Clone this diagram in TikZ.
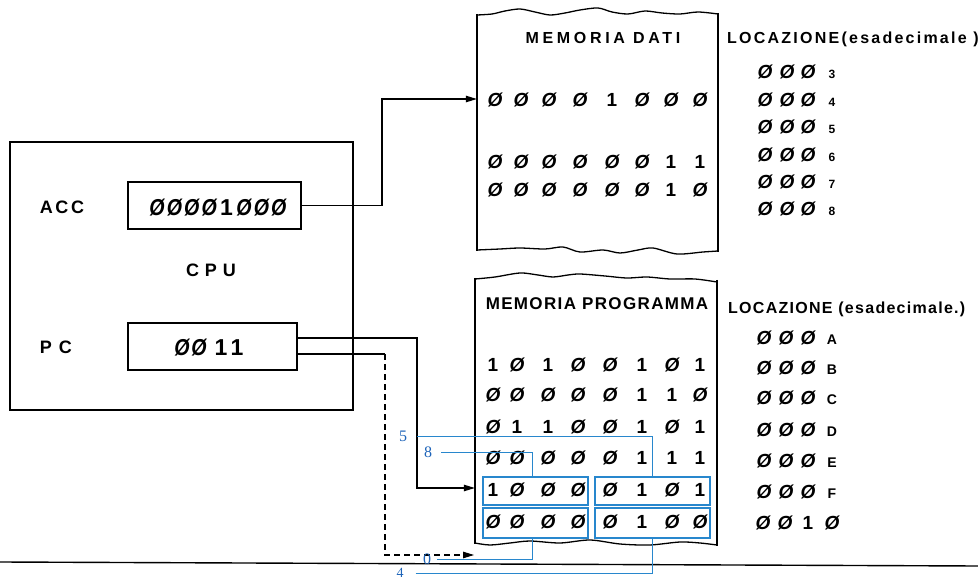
\documentclass[tikz,border=0pt]{standalone}
\usepackage{graphicx}
\usepackage{fontspec}
\setmainfont{Liberation Sans}
\newfontfamily\serifb{Liberation Serif}
\usetikzlibrary{arrows.meta}
\definecolor{bluel}{RGB}{40,135,205}
\definecolor{bluet}{RGB}{30,100,185}
\newcommand\Z{{\itshape Ø}}
\newcommand\ZR{\scalebox{0.85}[1]{\itshape Ø}}
\begin{document}
\begin{tikzpicture}[x=1pt,y=-1pt,
  every node/.style={inner sep=0pt},
  bx/.style={draw, line width=2pt},
  conn/.style={line width=1.1pt},
  arr/.style={conn, -{Triangle[length=11pt,width=6.5pt]}},
  memside/.style={line width=2.8pt},
  wave/.style={line width=1.3pt},
  bbox/.style={draw=bluel, line width=1.8pt},
  bline/.style={draw=bluel, line width=0.9pt},
  blab/.style={text=bluet, font=\serifb\fontsize{16}{16}\selectfont},
  lab/.style={font=\bfseries\fontsize{18}{18}\selectfont\addfontfeature{LetterSpace=15}},
  dg/.style={font=\bfseries\fontsize{19}{19}\selectfont, anchor=base},
  rg/.style={font=\bfseries\fontsize{23}{23}\selectfont, anchor=base},
  sm/.style={font=\bfseries\fontsize{12}{12}\selectfont, anchor=base},
  lt/.style={font=\bfseries\fontsize{14}{14}\selectfont, anchor=base},
]
\useasboundingbox (0,0) rectangle (978,580);

% ---------------- CPU ----------------
\node[bx, minimum width=343, minimum height=268] (cpu) at (181.5,276) {};
\node[bx, minimum width=173, minimum height=47] (accreg) at (214.5,205.5) {};
\node[bx, minimum width=169, minimum height=47] (pcreg) at (212.5,346.5) {};
\node[lab] (acclab) at (62,207) {ACC};
\node[lab, font=\bfseries\fontsize{18}{18}\selectfont\addfontfeature{LetterSpace=33}] (cpulab) at (211,270) {CPU};
\node[lab, font=\bfseries\fontsize{18}{18}\selectfont\addfontfeature{LetterSpace=39}] (pclab) at (56,347) {PC};

\foreach \d [count=\c] in {0,0,0,0,1,0,0,0} {
  \pgfmathsetmacro\xx{157+17.4*(\c-1)}
  \node[rg] (acc\c) at (\xx,215.3) {\ifnum\d=0 \ZR\else 1\fi};
}
\node[rg] (pc1) at (182,355.3) {\ZR};
\node[rg] (pc2) at (199,355.3) {\ZR};
\node[rg] (pc3) at (221,355.3) {1};
\node[rg] (pc4) at (237,355.3) {1};

% ---------------- MEMORIA DATI ----------------
\node[minimum width=241, minimum height=236] (mdati) at (597.5,132) {};
\draw[wave] plot[smooth] coordinates {(477,15) (492,14) (505,11) (520,9) (535,12) (550,15) (565,13) (580,10) (598,8) (612,12) (628,14) (645,11) (662,13) (680,14) (698,12) (718,14)};
\draw[wave] plot[smooth] coordinates {(477,250) (500,249) (520,248) (545,249) (563,247) (580,252) (603,250) (620,253) (638,250) (653,248) (677,254) (703,252) (718,251)};
\draw[memside] (477,14) -- (477,251);
\draw[memside] (718,13) -- (718,252);
\node[font=\bfseries\fontsize{16}{16}\selectfont\addfontfeature{LetterSpace=23}, anchor=base] (mdtitle) at (603,44) {MEMORIA DATI};
\node[font=\bfseries\fontsize{16}{16}\selectfont\addfontfeature{LetterSpace=14}, anchor=base west] (locd) at (727,44) {LOCAZIONE(esadecimale )};

\foreach \vals [count=\r] in {{0,0,0,0,1,0,0,0},{0,0,0,0,0,0,1,1},{0,0,0,0,0,0,1,0}} {
  \pgfmathsetmacro\yy{{100,162,190}[\r-1]+6.8}
  \foreach \d [count=\c] in \vals {
    \pgfmathsetmacro\xx{{495,521,549,580,612,642,671,700}[\c-1]}
    \node[dg] (md\r\c) at (\xx,\yy) {\ifnum\d=0 \Z\else 1\fi};
  }
}
\foreach \s [count=\r] in {3,4,5,6,7,8} {
  \pgfmathsetmacro\yy{{72,100,127,155,182,209}[\r-1]+6.8}
  \foreach \xx [count=\c] in {765,787,808} \node[dg] (ld\r\c) at (\xx,\yy) {\Z};
  \node[sm] (ld\r s) at (832,\yy) {\s};
}

% ---------------- MEMORIA PROGRAMMA ----------------
\node[minimum width=242, minimum height=265] (mprog) at (596,411) {};
\draw[wave] plot[smooth] coordinates {(475,279) (495,277) (520,273) (538,275) (553,277) (568,275) (580,274) (605,276) (627,278) (647,277) (670,279) (695,279) (717,282)};
\draw[wave] plot[smooth] coordinates {(475,543) (490,545) (510,543) (530,541) (560,543) (590,540) (620,544) (650,545) (680,542) (700,543) (717,545)};
\draw[memside] (475,278) -- (475,544);
\draw[memside] (717,280) -- (717,546);
\node[font=\bfseries\fontsize{17}{17}\selectfont\addfontfeature{LetterSpace=8}, anchor=base] (mptitle) at (597,310) {MEMORIA PROGRAMMA};
\node[font=\bfseries\fontsize{16}{16}\selectfont\addfontfeature{LetterSpace=8}, anchor=base west] (locp) at (728,313) {LOCAZIONE (esadecimale.)};

\foreach \vals [count=\r] in {{1,0,1,0,0,1,0,1},{0,0,0,0,0,1,1,0},{0,1,1,0,0,1,0,1},{0,0,0,0,0,1,1,1},{1,0,0,0,0,1,0,1},{0,0,0,0,0,1,0,0}} {
  \pgfmathsetmacro\yy{{365,395,427,458,490,522}[\r-1]+6.8}
  \foreach \d [count=\c] in \vals {
    \pgfmathsetmacro\xx{{493,517,548,578,610,642,672,700}[\c-1]}
    \node[dg] (mp\r-\c) at (\xx,\yy) {\ifnum\d=0 \Z\else 1\fi};
  }
}
\foreach \s [count=\r] in {A,B,C,D,E,F} {
  \pgfmathsetmacro\yy{{338,368,398,430,461,492}[\r-1]+6.8}
  \foreach \xx [count=\c] in {764,786,808} \node[dg] (lp\r-\c) at (\xx,\yy) {\Z};
  \node[lt] (lp\r-s) at (832,\yy) {\s};
}
\node[dg] (lp7-1) at (763,529.8) {\Z};
\node[dg] (lp7-2) at (785,529.8) {\Z};
\node[dg] (lp7-3) at (808,529.8) {1};
\node[dg] (lp7-4) at (832,529.8) {\Z};

% ---------------- blue boxes ----------------
\node[bbox, minimum width=105, minimum height=28] (bF1) at (535.5,491) {};
\node[bbox, minimum width=115, minimum height=28] (bF2) at (652.5,491) {};
\node[bbox, minimum width=105, minimum height=30] (bG1) at (535.5,523) {};
\node[bbox, minimum width=115, minimum height=30] (bG2) at (652.5,523) {};

% ---------------- connectors ----------------
\coordinate (accbend) at (382,99);
\draw[arr] (accreg.east) -| (accbend) -- (mdati.west |- accbend);

\coordinate (pcbend) at (417,488);
\draw[arr] ([yshift=8.5pt]pcreg.east) -| (pcbend) -- (mprog.west |- pcbend);

\coordinate (dbend) at (385,555);
\coordinate (dend) at (474,555);
\draw[conn] ([yshift=-7.5pt]pcreg.east) -- ([yshift=-7.5pt]pcreg.east -| dbend) coordinate (dstart);
\draw[conn, dashed, dash pattern=on 6pt off 4pt, -{Triangle[length=11pt,width=6.5pt]}] (dstart) -- (dbend) -- (dend);

% ---------------- bottom rule ----------------
\draw[line width=1.4pt] (0,562) -- (978,566);

% ---------------- blue labels and lines ----------------
\node[blab] (l5) at (403,436) {5};
\node[blab] (l8) at (428,452) {8};
\node[blab] (l0) at (427,559) {0};
\node[blab, font=\serifb\fontsize{14}{14}\selectfont] (l4) at (400,573) {4};
\coordinate (b8) at ([xshift=-3.5pt]bF1.north);
\coordinate (b0) at ([xshift=-3.5pt]bG1.south);
\draw[bline] ([xshift=10pt]l5.east) -- (bF2.north |- l5.east) -- (bF2.north);
\draw[bline] ([xshift=9pt]l8.east) -- (b8 |- l8.east) -- (b8);
\draw[bline] ([xshift=6pt]l0.east) -- (b0 |- l0.east) -- (b0);
\draw[bline] ([xshift=12pt]l4.east) -- (bG2.south |- l4.east) -- (bG2.south);
\end{tikzpicture}
\end{document}
